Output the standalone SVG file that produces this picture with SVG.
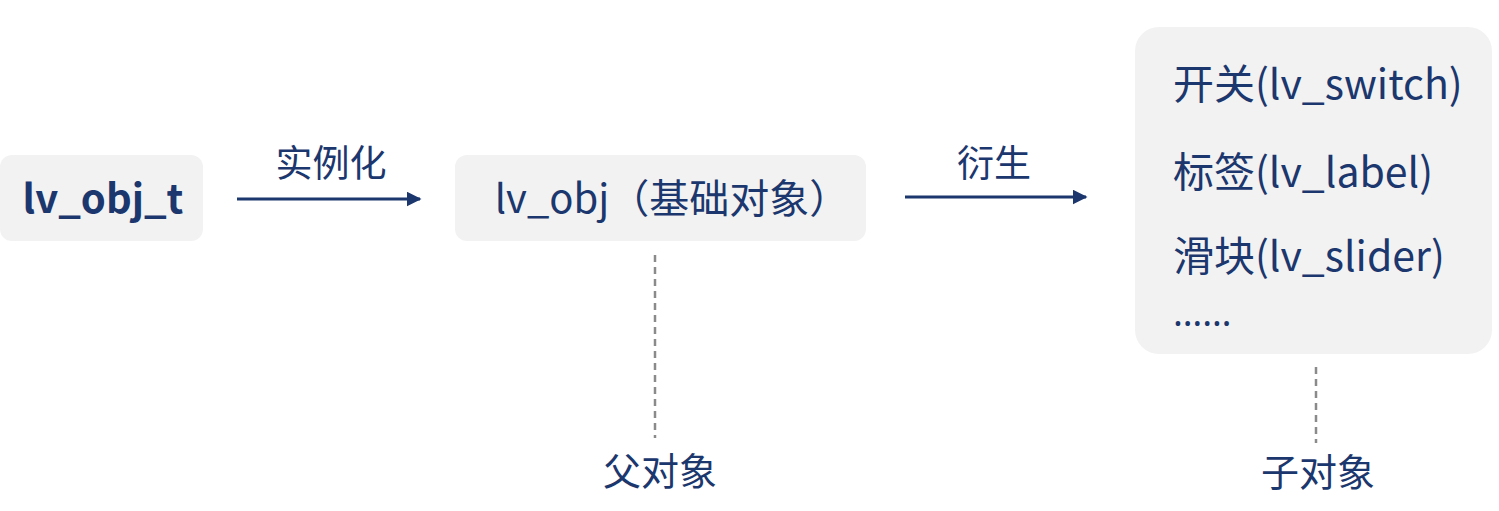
<svg xmlns="http://www.w3.org/2000/svg" width="1499" height="511" viewBox="0 0 1499 511">
<style>
.box{fill:#f2f2f2}
.t{font-family:"Noto Sans CJK SC","Noto Sans",sans-serif;fill:#1b376e}
.edge{stroke:#1b376e;stroke-width:3;fill:none}
.dash{stroke:#8a8a8a;stroke-width:2.5;stroke-dasharray:7 5;fill:none}
</style>
<defs>
<marker id="ah" viewBox="0 0 10 10" refX="9" refY="5" markerWidth="5" markerHeight="5" orient="auto" markerUnits="strokeWidth">
<path d="M0,0 L10,5 L0,10 z" fill="#1b376e"/>
</marker>
</defs>
<rect width="1499" height="511" fill="#ffffff"/>
<g id="connectors">
<line class="edge" x1="237" y1="199" x2="420" y2="199" marker-end="url(#ah)"/>
<line class="edge" x1="905" y1="197" x2="1086" y2="197" marker-end="url(#ah)"/>
<line class="dash" x1="655" y1="255" x2="655" y2="438"/>
<line class="dash" x1="1316" y1="367" x2="1316" y2="443"/>
<text class="t" x="331" y="177" font-size="37" text-anchor="middle">实例化</text>
<text class="t" x="994" y="177" font-size="37" text-anchor="middle">衍生</text>
</g>
<g id="node-lv_obj_t">
<rect class="box" x="0" y="155" width="203" height="86" rx="12"/>
<text class="t" x="103" y="213" font-size="40" font-weight="bold" text-anchor="middle">lv_obj_t</text>
</g>
<g id="node-lv_obj">
<rect class="box" x="455" y="155" width="411" height="86" rx="12"/>
<text class="t" x="672" y="213" font-size="40" text-anchor="middle">lv_obj（基础对象）</text>
</g>
<g id="node-children">
<rect class="box" x="1135" y="27" width="357" height="327" rx="24"/>
<text class="t" x="1173" y="99" font-size="41">开关(lv_switch)</text>
<text class="t" x="1173" y="187" font-size="41">标签(lv_label)</text>
<text class="t" x="1173" y="271" font-size="41">滑块(lv_slider)</text>
<text x="1173" y="326" font-size="37" font-family="'Noto Sans',sans-serif" fill="#1b376e">……</text>
</g>
<g id="label-parent">
<text class="t" x="660" y="485" font-size="38" text-anchor="middle">父对象</text>
</g>
<g id="label-child">
<text class="t" x="1318" y="486" font-size="38" text-anchor="middle">子对象</text>
</g>
</svg>
